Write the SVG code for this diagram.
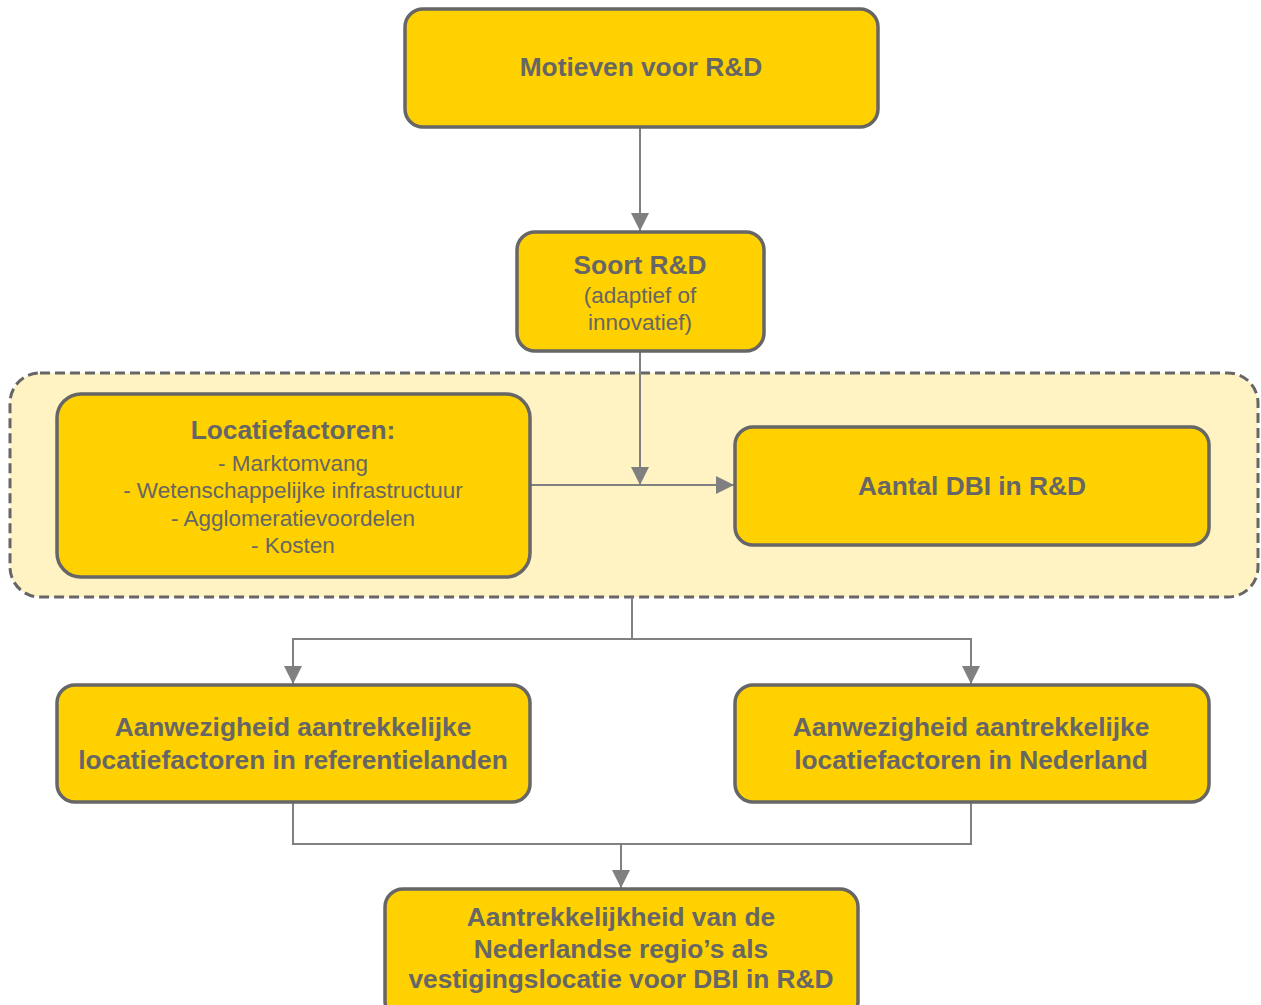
<svg xmlns="http://www.w3.org/2000/svg" width="1261" height="1005" viewBox="0 0 1261 1005">
  <style>
    .box { fill: #FFD100; stroke: #666666; stroke-width: 3.5; }
    .group { fill: #FFF3C4; stroke: #666666; stroke-width: 3; stroke-dasharray: 10 5; }
    .title { font-family: "Liberation Sans", Arial, sans-serif; font-weight: bold; font-size: 26.3px; fill: #666666; text-anchor: middle; }
    .item { font-family: "Liberation Sans", Arial, sans-serif; font-size: 22.5px; fill: #666666; text-anchor: middle; }
    .link { fill: none; stroke: #808080; stroke-width: 2; }
  </style>
  <defs>
    <marker id="arrow" markerUnits="userSpaceOnUse" markerWidth="18" markerHeight="18" viewBox="0 0 18 18" refX="18" refY="9" orient="auto">
      <path d="M0,0 L18,9 L0,18 z" fill="#808080"/>
    </marker>
  </defs>

  <!-- dashed grouping frame around location factors and DBI count -->
  <rect id="frame" class="group" x="10" y="373" width="1248" height="224" rx="30" ry="30"/>

  <g id="connectors">
    <path class="link" d="M640,127 V231" marker-end="url(#arrow)"/>
    <path class="link" d="M640,351 V485" marker-end="url(#arrow)"/>
    <path class="link" d="M530,485 H734" marker-end="url(#arrow)"/>
    <path class="link" d="M632,597 V639 H293 V684" marker-end="url(#arrow)"/>
    <path class="link" d="M632,639 H971 V684" marker-end="url(#arrow)"/>
    <path class="link" d="M293,802 V844 H971 V802"/>
    <path class="link" d="M621,844 V888" marker-end="url(#arrow)"/>
  </g>

  <g id="motieven">
    <rect class="box" x="405" y="9" width="473" height="118" rx="18" ry="18"/>
    <text class="title" x="641" y="76">Motieven voor R&amp;D</text>
  </g>

  <g id="soort">
    <rect class="box" x="517" y="232" width="247" height="119" rx="18" ry="18"/>
    <text class="title" x="640" y="274">Soort R&amp;D</text>
    <text class="item" x="640" y="303">(adaptief of</text>
    <text class="item" x="640" y="330">innovatief)</text>
  </g>

  <g id="locatiefactoren">
    <rect class="box" x="57" y="394" width="473" height="183" rx="24" ry="24"/>
    <text class="title" x="293" y="439">Locatiefactoren:</text>
    <text class="item" x="293" y="471">- Marktomvang</text>
    <text class="item" x="293" y="498">- Wetenschappelijke infrastructuur</text>
    <text class="item" x="293" y="526">- Agglomeratievoordelen</text>
    <text class="item" x="293" y="553">- Kosten</text>
  </g>

  <g id="aantal">
    <rect class="box" x="735" y="427" width="474" height="118" rx="18" ry="18"/>
    <text class="title" x="972" y="495">Aantal DBI in R&amp;D</text>
  </g>

  <g id="referentielanden">
    <rect class="box" x="57" y="685" width="473" height="117" rx="18" ry="18"/>
    <text class="title" x="293" y="736">Aanwezigheid aantrekkelijke</text>
    <text class="title" x="293" y="769">locatiefactoren in referentielanden</text>
  </g>

  <g id="nederland">
    <rect class="box" x="735" y="685" width="474" height="117" rx="18" ry="18"/>
    <text class="title" x="971" y="736">Aanwezigheid aantrekkelijke</text>
    <text class="title" x="971" y="769">locatiefactoren in Nederland</text>
  </g>

  <g id="aantrekkelijkheid">
    <rect class="box" x="385" y="889" width="473" height="130" rx="18" ry="18"/>
    <text class="title" x="621" y="926">Aantrekkelijkheid van de</text>
    <text class="title" x="621" y="958">Nederlandse regio’s als</text>
    <text class="title" x="621" y="988">vestigingslocatie voor DBI in R&amp;D</text>
  </g>
</svg>
